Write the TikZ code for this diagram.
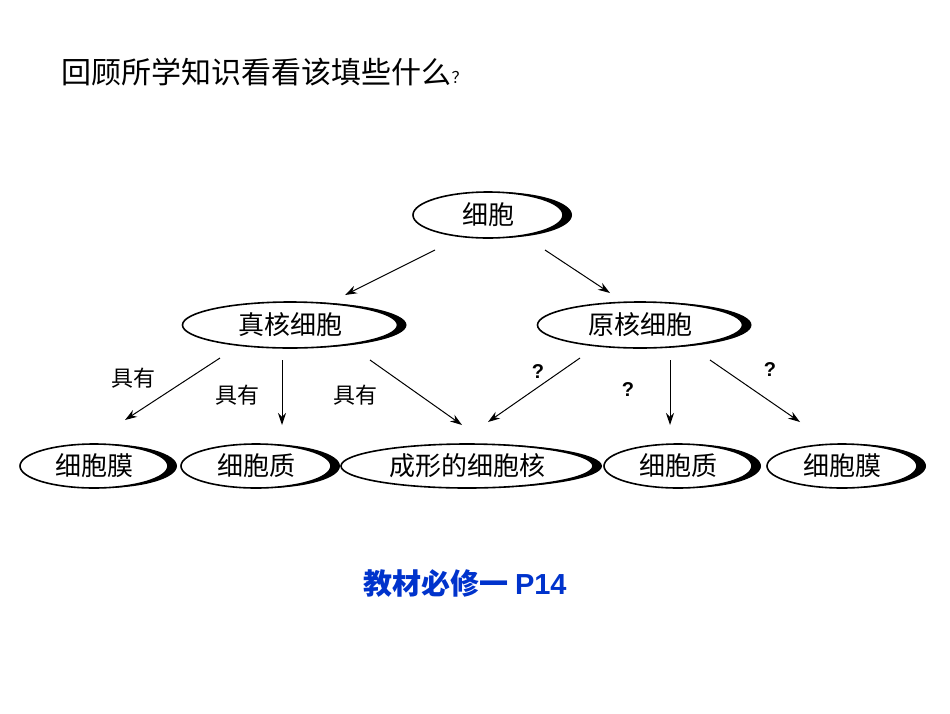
\documentclass[tikz,border=0pt]{standalone}
\usepackage{fontspec}
\setmainfont{Liberation Sans}
\newfontfamily\cjk{Noto Sans CJK SC}
\usetikzlibrary{shapes.geometric,shadows,arrows.meta}
\begin{document}
\begin{tikzpicture}[x=1pt,y=-1pt,
  cell/.style={ellipse,draw,line width=1.6pt,fill=white,inner sep=0pt,
    font=\cjk\fontsize{26}{30}\selectfont,
    drop shadow={shadow xshift=9pt,shadow yshift=0pt,fill=black,opacity=1,shadow scale=1}},
  arr/.style={-{Stealth[length=12pt,width=8pt]},line width=1pt},
  lab/.style={font=\cjk\fontsize{22}{26}\selectfont},
  q/.style={font=\bfseries\fontsize{20}{24}\selectfont}]
\useasboundingbox (0,0) rectangle (950,713);
\node[anchor=west,font=\cjk\fontsize{30}{34}\selectfont] (title) at (58,72) {回顾所学知识看看该填些什么{\fontsize{16}{18}\selectfont ？}};
\node[cell,minimum width=150pt,minimum height=46pt] (c) at (488,215) {细胞};
\node[cell,minimum width=215pt,minimum height=46pt] (e) at (290,325) {真核细胞};
\node[cell,minimum width=205pt,minimum height=46pt] (p) at (640,325) {原核细胞};
\node[cell,minimum width=148pt,minimum height=44pt] (b1) at (94,466) {细胞膜};
\node[cell,minimum width=150pt,minimum height=44pt] (b2) at (256,466) {细胞质};
\node[cell,minimum width=252pt,minimum height=44pt] (b3) at (467,466) {成形的细胞核};
\node[cell,minimum width=148pt,minimum height=44pt] (b4) at (678,466) {细胞质};
\node[cell,minimum width=150pt,minimum height=44pt] (b5) at (842,466) {细胞膜};
\coordinate (c1) at (435,250); \coordinate (c2) at (545,250);
\coordinate (e1) at (220,358); \coordinate (e2) at (282,360); \coordinate (e3) at (370,360);
\coordinate (p1) at (580,358); \coordinate (p2) at (670,360); \coordinate (p3) at (710,360);
\coordinate (t1) at (345,295); \coordinate (t2) at (610,293);
\coordinate (u1) at (125,420); \coordinate (u2) at (282,425); \coordinate (u3) at (462,425);
\coordinate (v1) at (488,422); \coordinate (v2) at (670,425); \coordinate (v3) at (800,422);
\draw[arr] (c1)--(t1); \draw[arr] (c2)--(t2);
\draw[arr] (e1)--(u1); \draw[arr] (e2)--(u2); \draw[arr] (e3)--(u3);
\draw[arr] (p1)--(v1); \draw[arr] (p2)--(v2); \draw[arr] (p3)--(v3);
\node[lab] (l1) at (133,378) {具有};
\node[lab] (l2) at (237,395) {具有};
\node[lab] (l3) at (355,395) {具有};
\node[q] (q1) at (538,372) {?};
\node[q] (q2) at (628,390) {?};
\node[q] (q3) at (770,370) {?};
\node[font=\cjk\bfseries\fontsize{29}{34}\selectfont,text={rgb,255:red,0;green,51;blue,204}] (bk) at (465,583) {教材必修一 {\rmfamily\bfseries P14}};
\end{tikzpicture}
\end{document}
